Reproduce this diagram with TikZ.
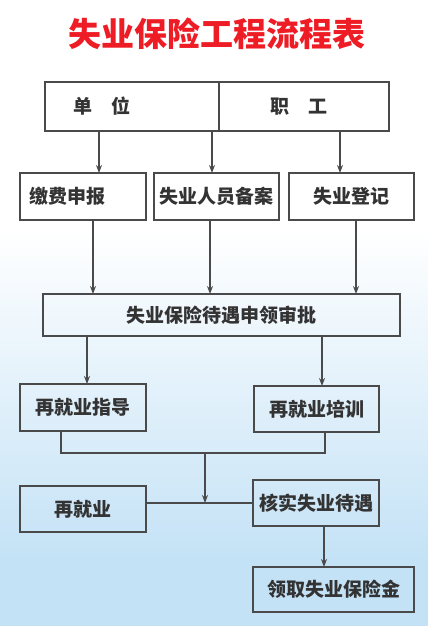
\documentclass[tikz,border=0pt]{standalone}
\usepackage{fontspec}
\usepackage{tikz}
\usetikzlibrary{arrows.meta}
\newfontfamily\cjk{Noto Sans CJK SC}
\definecolor{bgblue}{HTML}{C4E2F6}
\definecolor{boxline}{HTML}{4A4A4A}
\definecolor{boxtext}{HTML}{333333}
\definecolor{titlered}{HTML}{EE1C25}

\begin{document}
    \begin{tikzpicture}[x=1pt,y=-1pt]
      \tikzstyle{every node}+=[inner sep=0pt,outer sep=0pt]
      \tikzstyle{box}=[draw=boxline,line width=1.6pt,text=boxtext,font=\cjk\bfseries\fontsize{19}{19}\selectfont]
      \tikzstyle{link}=[draw=boxline,line width=1.4pt]
      \tikzstyle{arr}=[link,-{Stealth[length=8pt,width=6pt]}]
      \useasboundingbox (0,0) rectangle (428,626);
      \fill [white] (0,0) rectangle (428,230);
      \shade [top color=white,bottom color=bgblue] (0,230) rectangle (428,560);
      \fill [bgblue] (0,560) rectangle (428,626);
      \node [text=titlered,font=\cjk\bfseries\fontsize{33}{33}\selectfont] (title) at (216.5,33.5) {失业保险工程流程表};
      \node [box,minimum height=49pt,inner xsep=28pt,text width=118pt,align=left] (unit) at (132,106.5) {单\hspace{1em}位};
      \node [box,minimum height=49pt,inner xsep=51pt,text width=68pt,align=left] (worker) at (304,106.5) {职\hspace{1em}工};
      \node [box,minimum height=47pt,inner xsep=9pt,text width=108pt,align=left] (fee) at (83,196.5) {缴费申报};
      \node [box,minimum width=125pt,minimum height=47pt] (file) at (216.5,196.5) {失业人员备案};
      \node [box,minimum width=125pt,minimum height=47pt] (reg) at (351.5,196.5) {失业登记};
      \node [box,minimum width=357pt,minimum height=42pt] (big) at (221.5,315) {失业保险待遇申领审批};
      \node [box,minimum width=126pt,minimum height=47pt] (guide) at (83,407.5) {再就业指导};
      \node [box,minimum width=125pt,minimum height=46pt] (train) at (316.5,409) {再就业培训};
      \node [box,minimum width=126pt,minimum height=46pt] (reemp) at (83,509) {再就业};
      \node [box,minimum width=126pt,minimum height=46pt] (verify) at (316,503) {核实失业待遇};
      \node [box,minimum width=161pt,minimum height=45pt] (claim) at (333.5,589.5) {领取失业保险金};
      \coordinate (a1) at ([xshift=16pt]fee.north);
      \coordinate (a2) at ([xshift=-4.5pt]file.north);
      \coordinate (a3) at ([xshift=-11.5pt]reg.north);
      \draw [arr] (a1 |- unit.south) -- (a1);
      \draw [arr] (a2 |- unit.south) -- (a2);
      \draw [arr] (a3 |- worker.south) -- (a3);
      \coordinate (b1) at ([xshift=10pt]fee.south);
      \coordinate (b2) at ([xshift=-6.5pt]file.south);
      \coordinate (b3) at ([xshift=4.5pt]reg.south);
      \draw [arr] (b1) -- (b1 |- big.north);
      \draw [arr] (b2) -- (b2 |- big.north);
      \draw [arr] (b3) -- (b3 |- big.north);
      \coordinate (c1) at ([xshift=4pt]guide.north);
      \coordinate (c2) at ([xshift=5.5pt]train.north);
      \draw [arr] (c1 |- big.south) -- (c1);
      \draw [arr] (c2 |- big.south) -- (c2);
      \coordinate (d1) at ([xshift=-22pt]guide.south);
      \coordinate (d2) at ([xshift=8.5pt]train.south);
      \coordinate (join) at (205,453);
      \draw [link] (d1) |- (join) -| (d2);
      \draw [arr] (join) -- (join |- verify.west);
      \draw [link] (reemp.east |- verify.west) -- (verify.west);
      \coordinate (e1) at ([xshift=8pt]verify.south);
      \draw [arr] (e1) -- (e1 |- claim.north);
    \end{tikzpicture}
\end{document}
